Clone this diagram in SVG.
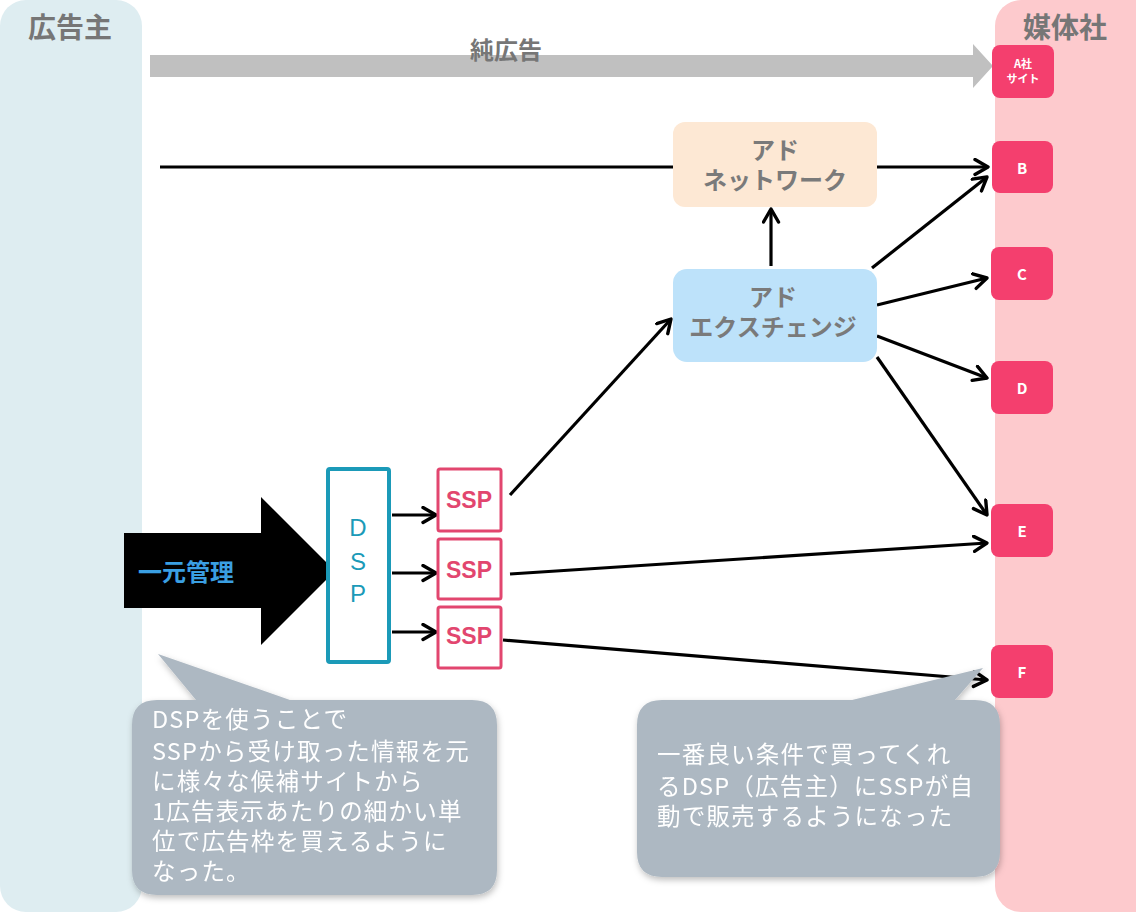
<svg xmlns="http://www.w3.org/2000/svg" width="1136" height="912" viewBox="0 0 1136 912">
<style>
.t{font-family:"Noto Sans CJK JP","Liberation Sans",sans-serif;}
.title{font-size:28px;font-weight:bold;fill:#767676;text-anchor:middle;dominant-baseline:central;}
.box{font-size:24px;font-weight:bold;fill:#7a7a7a;text-anchor:middle;dominant-baseline:central;}
.site{fill:#f43f6e;}
.sl{font-size:15px;font-weight:bold;fill:#fff;text-anchor:middle;dominant-baseline:central;}
.ssp{fill:#fff;stroke:#e2466f;stroke-width:3;}
.sspt{font-family:"Liberation Sans",sans-serif;font-size:23px;font-weight:bold;fill:#e2466f;text-anchor:middle;dominant-baseline:central;}
.dsp{font-family:"Liberation Sans",sans-serif;font-size:24px;fill:#1b9ab8;text-anchor:middle;dominant-baseline:central;}
.note{font-size:23.5px;fill:#fff;letter-spacing:1.2px;}
.ln{stroke:#000;stroke-width:3.2;fill:none;}
</style>
<defs>
<marker id="ah" markerWidth="22" markerHeight="22" refX="15" refY="9" orient="auto" markerUnits="userSpaceOnUse">
<path d="M2,1.5 L15,9 L2,16.5" fill="none" stroke="#000" stroke-width="3.4" stroke-linecap="round" stroke-linejoin="round"/>
</marker>
<filter id="sh" x="-10%" y="-10%" width="120%" height="130%">
<feDropShadow dx="1" dy="3" stdDeviation="3" flood-color="#000" flood-opacity="0.25"/>
</filter>
</defs>

<g id="advertiser-panel">
<rect x="0" y="0" width="142" height="912" rx="26" fill="#deedf1"/>
<text class="t title" x="70" y="26">広告主</text>
</g>
<g id="publisher-panel">
<rect x="995" y="0" width="170" height="912" rx="26" fill="#fdcacd"/>
<text class="t title" x="1065" y="26">媒体社</text>
</g>

<g id="pure-ad-arrow">
<polygon points="150,55 973,55 973,44 993,66 973,88 973,77 150,77" fill="#c0c0c0"/>
<text class="t box" x="506" y="48" style="fill:#767676">純広告</text>
</g>

<g id="connectors">
<line class="ln" x1="160" y1="167" x2="988" y2="167" marker-end="url(#ah)"/>
<line class="ln" x1="771" y1="266" x2="771" y2="209" marker-end="url(#ah)"/>
<line class="ln" x1="872" y1="268" x2="987" y2="177" marker-end="url(#ah)"/>
<line class="ln" x1="877" y1="305" x2="987" y2="278" marker-end="url(#ah)"/>
<line class="ln" x1="877" y1="336" x2="987" y2="378" marker-end="url(#ah)"/>
<line class="ln" x1="877" y1="357" x2="987" y2="515" marker-end="url(#ah)"/>
<line class="ln" x1="510" y1="495" x2="671" y2="319" marker-end="url(#ah)"/>
<line class="ln" x1="510" y1="574" x2="987" y2="543" marker-end="url(#ah)"/>
<line class="ln" x1="503" y1="640" x2="987" y2="680" marker-end="url(#ah)"/>
<line class="ln" x1="392" y1="515" x2="436" y2="515" marker-end="url(#ah)"/>
<line class="ln" x1="392" y1="573" x2="436" y2="573" marker-end="url(#ah)"/>
<line class="ln" x1="392" y1="632" x2="436" y2="632" marker-end="url(#ah)"/>
</g>

<g id="ad-network">
<rect x="673" y="122" width="204" height="85" rx="12" fill="#fde8d4"/>
<text class="t box" x="775" y="148">アド</text>
<text class="t box" x="775" y="178">ネットワーク</text>
</g>
<g id="ad-exchange">
<rect x="673" y="269" width="204" height="93" rx="14" fill="#bde2fa"/>
<text class="t box" x="773" y="295">アド</text>
<text class="t box" x="773" y="325">エクスチェンジ</text>
</g>

<g id="site-a"><rect class="site" x="992" y="45" width="62" height="53" rx="8"/>
<text class="t sl" x="1023" y="63" style="font-size:11px">A社</text>
<text class="t sl" x="1023" y="78" style="font-size:11px">サイト</text></g>
<g id="site-b"><rect class="site" x="992" y="141" width="61" height="52" rx="8"/><text class="t sl" x="1022" y="167">B</text></g>
<g id="site-c"><rect class="site" x="991" y="247" width="62" height="53" rx="8"/><text class="t sl" x="1022" y="273">C</text></g>
<g id="site-d"><rect class="site" x="991" y="361" width="62" height="53" rx="8"/><text class="t sl" x="1022" y="387">D</text></g>
<g id="site-e"><rect class="site" x="991" y="504" width="62" height="53" rx="8"/><text class="t sl" x="1022" y="530">E</text></g>
<g id="site-f"><rect class="site" x="991" y="645" width="62" height="53" rx="8"/><text class="t sl" x="1022" y="671">F</text></g>

<g id="unified-arrow">
<polygon points="124,533 261,533 261,497 335,571 261,645 261,608 124,608" fill="#000"/>
<text class="t box" x="186" y="570" style="fill:#3a9fe2">一元管理</text>
</g>

<g id="dsp">
<rect x="328" y="469" width="61" height="193" fill="#fff" stroke="#1b9ab8" stroke-width="4" rx="2"/>
<text class="dsp" x="358" y="527">D</text>
<text class="dsp" x="358" y="561">S</text>
<text class="dsp" x="358" y="593">P</text>
</g>

<g id="ssp-1"><rect class="ssp" x="438" y="469" width="63" height="62" rx="2"/><text class="sspt" x="469" y="500">SSP</text></g>
<g id="ssp-2"><rect class="ssp" x="438" y="539" width="63" height="60" rx="2"/><text class="sspt" x="469" y="570">SSP</text></g>
<g id="ssp-3"><rect class="ssp" x="438" y="607" width="63" height="61" rx="2"/><text class="sspt" x="469" y="636">SSP</text></g>

<g id="note-dsp" filter="url(#sh)">
<path d="M158,654 L290,700 L472,700 Q497,700 497,725 L497,870 Q497,895 472,895 L157,895 Q132,895 132,870 L132,725 Q132,700 157,700 L196,700 Z" fill="#adb8c2"/>
<g class="t note">
<text x="152" y="728">DSPを使うことで</text>
<text x="152" y="760">SSPから受け取った情報を元</text>
<text x="152" y="790">に様々な候補サイトから</text>
<text x="152" y="820">1広告表示あたりの細かい単</text>
<text x="152" y="850">位で広告枠を買えるように</text>
<text x="152" y="880">なった。</text>
</g>
</g>

<g id="note-ssp" filter="url(#sh)">
<path d="M983,668 L955,700 L975,700 Q1000,700 1000,725 L1000,852 Q1000,877 975,877 L662,877 Q637,877 637,852 L637,725 Q637,700 662,700 L852,700 Z" fill="#adb8c2"/>
<g class="t note">
<text x="657" y="763">一番良い条件で買ってくれ</text>
<text x="657" y="795">るDSP（広告主）にSSPが自</text>
<text x="657" y="825">動で販売するようになった</text>
</g>
</g>
</svg>
